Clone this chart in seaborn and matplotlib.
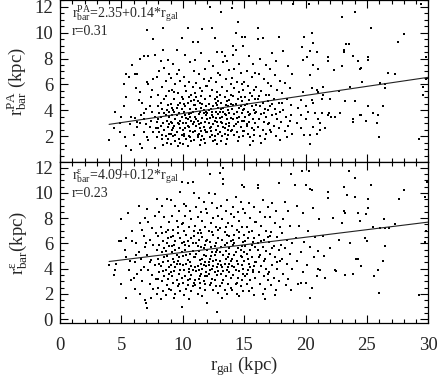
import numpy as np
import pandas as pd
import seaborn as sns
import matplotlib
matplotlib.use('Agg')
from matplotlib import pyplot as plt
from matplotlib.ticker import MultipleLocator

# bar length from position angle profile vs galaxy radius
pa_points = [
    (4.0, 1.7), (4.4, 2.6), (4.5, 3.9), (4.9, 3.0), (4.9, 2.3), (5.0, 3.5), (5.3, 1.9), (5.4, 1.2), (5.8, 0.9), (5.2, 4.3),
    (5.4, 5.0), (5.4, 6.8), (5.6, 6.6), (5.2, 6.0), (5.9, 7.5), (5.8, 3.5), (5.7, 2.9), (6.1, 6.8), (6.3, 6.8), (6.5, 8.0),
    (6.8, 8.2), (6.2, 5.7), (6.5, 5.4), (6.4, 4.8), (6.7, 4.6), (6.1, 3.4), (6.3, 3.1), (6.5, 3.0), (6.8, 3.3), (6.3, 2.7),
    (6.8, 2.3), (6.5, 1.4), (6.7, 1.1), (7.1, 1.9), (6.8, 3.8), (7.1, 6.2), (7.2, 6.0), (7.5, 5.6), (7.6, 6.4), (7.9, 6.6),
    (7.3, 4.3), (7.5, 3.9), (7.7, 3.5), (7.9, 3.1), (7.3, 2.7), (7.6, 2.3), (7.9, 1.9), (7.2, 1.7), (7.7, 1.1), (7.2, 8.2),
    (7.7, 8.3), (7.6, 9.5), (7.1, 10.2), (6.0, 2.1), (6.6, 3.6), (7.0, 4.1), (7.4, 3.2), (7.8, 2.6), (7.0, 2.9), (7.4, 5.0),
    (8.1, 7.0), (8.2, 7.8), (8.4, 10.4), (8.8, 7.9), (8.4, 8.7), (8.0, 5.2), (8.3, 5.8), (8.6, 6.3), (8.9, 5.5), (8.2, 4.6),
    (8.5, 4.9), (8.8, 4.4), (8.1, 3.8), (8.3, 4.1), (8.6, 3.6), (8.9, 3.9), (8.0, 3.3), (8.4, 3.0), (8.7, 3.2), (8.2, 2.8),
    (8.5, 2.5), (8.8, 2.7), (8.1, 2.3), (8.6, 2.0), (8.9, 2.2), (8.3, 1.8), (8.7, 1.5), (8.4, 1.3), (8.0, 2.6), (8.9, 3.5),
    (8.5, 3.8), (8.2, 3.5), (8.7, 4.0), (8.6, 5.1), (8.9, 6.8), (8.3, 2.1), (8.8, 1.8), (8.0, 4.3), (8.5, 7.3), (8.9, 2.9),
    (9.9, 9.6), (9.5, 8.7), (9.2, 7.6), (9.7, 7.1), (9.0, 6.5), (9.4, 6.0), (9.8, 6.3), (9.1, 5.6), (9.6, 5.3), (9.3, 4.9),
    (9.9, 5.0), (9.0, 4.5), (9.5, 4.2), (9.8, 4.6), (9.2, 4.0), (9.7, 3.8), (9.1, 3.6), (9.4, 3.3), (9.9, 3.5), (9.0, 3.1),
    (9.6, 3.0), (9.3, 2.8), (9.8, 2.6), (9.1, 2.5), (9.5, 2.3), (9.9, 2.1), (9.2, 2.0), (9.7, 1.8), (9.4, 1.6), (9.0, 1.4),
    (9.6, 1.2), (9.3, 3.9), (9.8, 3.2), (9.1, 4.2), (9.5, 3.6), (9.7, 2.9), (9.2, 2.6), (9.9, 4.1), (9.4, 2.1), (9.6, 4.4),
    (9.0, 2.2), (9.3, 5.4), (9.8, 1.5), (9.5, 6.8), (9.1, 3.0),
    (10.4, 10.4), (10.8, 9.3), (10.2, 8.3), (10.6, 7.7), (10.9, 7.0), (10.1, 6.6), (10.5, 6.2), (10.8, 5.8), (10.3, 5.5), (10.7, 5.2),
    (10.0, 4.9), (10.4, 4.6), (10.9, 4.8), (10.2, 4.3), (10.6, 4.1), (10.1, 3.9), (10.5, 3.7), (10.8, 3.9), (10.3, 3.4), (10.7, 3.2),
    (10.0, 3.0), (10.4, 2.8), (10.9, 3.1), (10.2, 2.6), (10.6, 2.4), (10.1, 2.2), (10.5, 2.0), (10.8, 2.3), (10.3, 1.8), (10.7, 1.6),
    (10.0, 1.4), (10.4, 1.2), (10.6, 3.5), (10.2, 3.6), (10.9, 4.4), (10.5, 2.7), (10.8, 2.9), (10.1, 4.5), (10.3, 3.0), (10.7, 4.7),
    (10.0, 2.5), (10.6, 1.9), (10.9, 1.7), (10.4, 3.3), (10.2, 5.9), (10.7, 3.8), (10.5, 5.0), (10.1, 2.0),
    (11.2, 9.3), (11.6, 10.3), (11.0, 7.9), (11.5, 8.4), (11.8, 7.2), (11.3, 6.8), (11.7, 6.4), (11.1, 6.1), (11.4, 5.7), (11.9, 5.9),
    (11.0, 5.3), (11.5, 5.1), (11.8, 4.9), (11.2, 4.7), (11.6, 4.5), (11.9, 4.3), (11.1, 4.1), (11.4, 3.9), (11.7, 4.0), (11.3, 3.7),
    (11.0, 3.5), (11.6, 3.4), (11.9, 3.6), (11.2, 3.2), (11.5, 3.0), (11.8, 3.1), (11.1, 2.8), (11.4, 2.6), (11.7, 2.7), (11.0, 2.4),
    (11.3, 2.2), (11.6, 2.0), (11.9, 2.3), (11.2, 1.9), (11.5, 1.7), (11.8, 1.5), (11.4, 1.3), (11.7, 3.8), (11.1, 3.3), (11.5, 4.2),
    (11.3, 2.9), (11.8, 2.5), (11.0, 4.4), (11.6, 5.5), (11.9, 3.9), (11.2, 2.1), (11.4, 4.6), (11.7, 1.8), (11.1, 5.0), (11.5, 2.4),
    (12.2, 12.0), (12.4, 10.4), (12.6, 9.6), (12.8, 8.5), (12.1, 7.8), (12.5, 7.4), (12.9, 6.9), (12.3, 6.5), (12.7, 6.2), (12.0, 5.9),
    (12.4, 5.6), (12.8, 5.4), (12.2, 5.1), (12.6, 4.9), (12.9, 4.7), (12.1, 4.5), (12.5, 4.3), (12.8, 4.4), (12.3, 4.1), (12.7, 3.9),
    (12.0, 3.8), (12.4, 3.6), (12.9, 3.7), (12.2, 3.4), (12.6, 3.2), (12.1, 3.0), (12.5, 2.9), (12.8, 3.1), (12.3, 2.7), (12.7, 2.5),
    (12.0, 2.3), (12.4, 2.1), (12.9, 2.2), (12.2, 1.9), (12.6, 1.7), (12.8, 1.4), (12.5, 3.5), (12.1, 4.0), (12.7, 4.6), (12.3, 2.4),
    (12.9, 2.8), (12.0, 3.3), (12.6, 2.0), (12.4, 3.9), (12.8, 5.0), (12.2, 2.6), (12.5, 1.6), (12.7, 3.4), (12.1, 6.3), (12.9, 4.2),
    (13.1, 11.6), (13.2, 8.5), (13.4, 8.2), (13.6, 7.8), (13.3, 7.7), (13.8, 7.1), (13.0, 6.7), (13.5, 6.4), (13.9, 6.0), (13.2, 5.8),
    (13.6, 5.5), (13.0, 5.2), (13.4, 5.0), (13.8, 4.8), (13.1, 4.6), (13.5, 4.4), (13.9, 4.5), (13.3, 4.2), (13.7, 4.0), (13.0, 3.9),
    (13.4, 3.7), (13.8, 3.8), (13.2, 3.5), (13.6, 3.3), (13.9, 3.4), (13.1, 3.1), (13.5, 2.9), (13.8, 3.0), (13.3, 2.7), (13.7, 2.5),
    (13.0, 2.3), (13.4, 2.2), (13.9, 2.4), (13.2, 2.0), (13.6, 1.8), (13.1, 1.6), (13.5, 1.4), (13.7, 4.3), (13.3, 3.9), (13.8, 2.8),
    (13.0, 3.4), (13.6, 4.7), (13.4, 2.6), (13.9, 5.2), (13.2, 3.0), (13.5, 3.6), (13.7, 2.1), (13.1, 4.1),
    (14.0, 11.9), (14.3, 10.0), (14.5, 10.8), (14.8, 9.7), (14.1, 9.0), (14.9, 9.0), (14.1, 8.3), (14.3, 8.7), (14.6, 7.6), (14.2, 7.2),
    (14.7, 6.9), (14.0, 6.5), (14.4, 6.2), (14.8, 6.0), (14.2, 5.7), (14.6, 5.4), (14.9, 5.6), (14.1, 5.1), (14.5, 4.9), (14.8, 4.7),
    (14.3, 4.5), (14.7, 4.3), (14.0, 4.1), (14.4, 3.9), (14.9, 4.0), (14.2, 3.7), (14.6, 3.5), (14.1, 3.3), (14.5, 3.1), (14.8, 3.2),
    (14.3, 2.9), (14.7, 2.7), (14.0, 2.5), (14.4, 2.3), (14.9, 2.4), (14.2, 2.1), (14.6, 1.9), (14.5, 1.6), (14.8, 3.8), (14.1, 4.4),
    (14.4, 3.4), (14.7, 5.0), (14.2, 2.8), (14.6, 4.2), (14.9, 2.0),
    (15.1, 9.7), (15.4, 8.2), (15.7, 7.6), (15.2, 7.0), (15.6, 6.6), (15.9, 6.9), (15.0, 6.2), (15.3, 5.9), (15.8, 5.6), (15.5, 5.3),
    (15.1, 5.0), (15.4, 4.8), (15.9, 4.9), (15.2, 4.5), (15.6, 4.3), (15.0, 4.1), (15.3, 3.9), (15.8, 4.0), (15.5, 3.7), (15.1, 3.5),
    (15.7, 3.3), (15.4, 3.1), (15.9, 3.0), (15.2, 2.8), (15.6, 2.6), (15.0, 2.4), (15.3, 2.2), (15.8, 2.1), (15.5, 1.9), (15.7, 1.6),
    (15.1, 4.4), (15.4, 3.6), (15.9, 3.8), (15.6, 5.1), (15.2, 2.9), (15.8, 2.5), (15.0, 3.2), (15.5, 1.3),
    (16.1, 10.4), (16.1, 9.5), (16.5, 9.6), (16.3, 8.0), (16.8, 7.5), (16.2, 6.8), (16.6, 6.4), (16.9, 6.1), (16.0, 5.8), (16.4, 5.5),
    (16.8, 5.2), (16.1, 4.9), (16.5, 4.6), (16.9, 4.7), (16.3, 4.3), (16.7, 4.1), (16.0, 3.9), (16.4, 3.7), (16.8, 3.5), (16.2, 3.3),
    (16.6, 3.1), (16.9, 2.9), (16.1, 2.7), (16.5, 2.5), (16.8, 2.2), (16.3, 2.0), (16.7, 1.8), (16.4, 1.5), (16.0, 4.4), (16.6, 3.8),
    (16.2, 5.1), (16.9, 4.0),
    (17.8, 9.7), (17.3, 8.4), (17.6, 7.8), (17.1, 7.2), (17.5, 6.7), (17.9, 6.3), (17.2, 5.9), (17.7, 5.6), (17.0, 5.2), (17.4, 4.9),
    (17.8, 4.6), (17.1, 4.3), (17.5, 4.1), (17.9, 3.9), (17.3, 3.6), (17.7, 3.3), (17.0, 3.0), (17.4, 2.8), (17.8, 2.6), (17.2, 2.3),
    (17.6, 2.0), (17.9, 1.7), (17.3, 4.5), (17.6, 3.7), (17.1, 2.5),
    (18.2, 8.6), (18.6, 7.4), (18.9, 6.8), (18.3, 6.1), (18.7, 5.7), (18.1, 5.3), (18.5, 4.9), (18.8, 4.4), (18.2, 4.0), (18.4, 3.5),
    (18.8, 3.6), (18.0, 3.1), (18.6, 2.8), (18.3, 2.4), (18.9, 2.2), (18.5, 1.9), (18.1, 4.6), (18.7, 3.2),
    (19.0, 12.2), (19.7, 12.5), (20.3, 12.2), (29.4, 12.2), (24.0, 11.6), (23.0, 11.2), (25.3, 10.4), (28.0, 9.9), (27.5, 9.3), (19.9, 9.7),
    (20.5, 10.0), (20.6, 9.2), (19.7, 8.9), (20.4, 8.6), (20.9, 8.5), (20.1, 8.1), (19.8, 7.9), (20.6, 7.5), (21.0, 7.2), (20.4, 6.7),
    (21.8, 8.1), (21.8, 7.8), (22.3, 7.1), (23.1, 8.7), (23.1, 8.5), (23.3, 9.1), (23.5, 9.1), (23.9, 8.2), (24.3, 7.8), (24.4, 7.2),
    (24.5, 7.3), (23.0, 7.4), (25.1, 8.1), (25.1, 7.9), (26.7, 6.9), (27.3, 6.8), (26.1, 6.1), (26.5, 6.0), (24.6, 6.2), (23.6, 5.8),
    (22.7, 5.5), (21.4, 5.8), (21.0, 5.4), (21.4, 5.2), (22.0, 4.9), (21.3, 4.9), (20.9, 5.6), (20.5, 5.7), (19.8, 5.4), (19.6, 4.8),
    (20.5, 4.8), (20.6, 4.6), (20.0, 4.3), (20.2, 3.9), (19.4, 4.2), (19.6, 3.6), (20.8, 3.8), (21.3, 3.8), (21.0, 3.3), (21.2, 3.0),
    (20.0, 3.3), (19.3, 3.0), (19.6, 2.6), (20.6, 2.7), (20.4, 2.1), (20.9, 2.2), (19.9, 2.1), (20.4, 1.4), (21.9, 3.8), (22.1, 3.5),
    (22.8, 3.8), (23.9, 3.3), (24.4, 3.6), (24.5, 3.6), (25.1, 4.3), (25.8, 3.0), (25.9, 3.6), (26.3, 4.3), (26.0, 1.9), (29.2, 1.8),
    (29.6, 5.2), (29.6, 5.8), (29.8, 6.4), (29.8, 8.1), (26.5, 5.7), (23.2, 4.7), (24.0, 4.7), (22.4, 3.5), (21.8, 3.6), (21.2, 2.5),
    (24.9, 3.2), (25.5, 3.8), (23.9, 3.1), (21.6, 2.6),
]

# bar length from ellipticity profile vs galaxy radius
eps_points = [
    (4.0, 4.3), (4.4, 3.5), (4.5, 3.9), (4.6, 4.4), (4.8, 6.2), (5.0, 2.8), (5.0, 7.9), (5.0, 6.2), (5.4, 6.4), (5.5, 8.4),
    (5.4, 1.7), (5.4, 4.9), (5.6, 3.9), (5.9, 7.0), (5.9, 6.2), (5.3, 5.5), (5.7, 4.6), (5.8, 3.1), (6.1, 4.5), (6.4, 9.0),
    (6.5, 7.6), (6.9, 8.0), (6.9, 1.5), (7.0, 1.3), (7.1, 0.9), (7.1, 8.7), (6.2, 6.0), (6.4, 5.3), (6.6, 4.8), (6.8, 4.1),
    (6.3, 3.6), (6.7, 3.0), (6.1, 2.4), (6.5, 2.0), (6.8, 6.6), (6.2, 5.1), (6.6, 3.9), (6.9, 5.7), (6.0, 3.3), (6.7, 7.1),
    (7.9, 9.5), (7.2, 7.7), (7.5, 7.2), (7.8, 6.8), (7.3, 6.3), (7.6, 5.9), (7.9, 5.5), (7.1, 5.1), (7.4, 4.7), (7.7, 4.3),
    (7.2, 3.9), (7.5, 3.5), (7.8, 3.2), (7.3, 2.8), (7.6, 2.4), (7.9, 2.0), (7.4, 1.7), (7.0, 6.0), (7.7, 8.2), (7.3, 4.5),
    (8.7, 9.5), (8.3, 9.0), (8.1, 8.5), (8.5, 8.1), (8.9, 7.7), (8.2, 7.3), (8.6, 6.9), (8.0, 6.6), (8.4, 6.2), (8.8, 6.4),
    (8.1, 5.9), (8.5, 5.6), (8.9, 5.8), (8.3, 5.3), (8.7, 5.0), (8.0, 4.8), (8.4, 4.5), (8.8, 4.6), (8.2, 4.2), (8.6, 3.9),
    (8.9, 4.1), (8.1, 3.7), (8.5, 3.4), (8.8, 3.2), (8.3, 3.0), (8.7, 2.7), (8.0, 2.5), (8.4, 2.2), (8.9, 2.4), (8.6, 1.9),
    (8.2, 1.6), (8.5, 4.9), (8.7, 6.0), (8.3, 6.8), (8.9, 3.6), (8.1, 4.4), (8.6, 5.4), (8.4, 3.8), (8.8, 7.1), (8.0, 3.2),
    (9.0, 9.4), (9.8, 10.1), (9.4, 9.0), (9.7, 8.6), (9.1, 8.2), (9.5, 7.8), (9.9, 7.5), (9.2, 7.1), (9.6, 6.8), (9.0, 6.5),
    (9.4, 6.2), (9.8, 6.4), (9.3, 5.9), (9.7, 5.6), (9.1, 5.3), (9.5, 5.1), (9.9, 5.3), (9.2, 4.8), (9.6, 4.6), (9.0, 4.3),
    (9.4, 4.1), (9.8, 4.4), (9.3, 3.8), (9.7, 3.6), (9.1, 3.4), (9.5, 3.1), (9.9, 3.3), (9.2, 2.9), (9.6, 2.6), (9.0, 2.3),
    (9.4, 2.0), (9.8, 2.2), (9.9, 1.0), (9.3, 1.7), (9.7, 4.9), (9.1, 5.8), (9.5, 4.4), (9.8, 3.9), (9.2, 6.6), (9.6, 7.3),
    (9.0, 3.7), (9.4, 5.5), (9.7, 2.8), (9.3, 4.5), (9.9, 6.0),
    (10.1, 9.1), (10.3, 9.0), (10.9, 10.0), (10.4, 10.8), (10.8, 10.9), (9.9, 10.9), (10.6, 8.6), (10.2, 8.2), (10.7, 7.9), (10.0, 7.6),
    (10.5, 7.3), (10.9, 7.0), (10.3, 6.7), (10.7, 6.4), (10.1, 6.1), (10.5, 5.8), (10.8, 6.0), (10.2, 5.5), (10.6, 5.2), (10.0, 5.0),
    (10.4, 4.7), (10.9, 4.9), (10.3, 4.4), (10.7, 4.2), (10.1, 3.9), (10.5, 3.7), (10.8, 3.9), (10.2, 3.4), (10.6, 3.2), (10.0, 2.9),
    (10.4, 2.7), (10.9, 2.9), (10.3, 2.4), (10.7, 2.2), (10.1, 1.9), (10.5, 1.6), (10.6, 4.5), (10.2, 5.9), (10.8, 5.4), (10.4, 6.2),
    (10.0, 4.3), (10.7, 3.5), (10.3, 5.1), (10.9, 6.6), (10.5, 4.0), (10.1, 7.0), (10.8, 2.6), (10.4, 3.1),
    (11.3, 9.6), (11.7, 9.3), (11.1, 8.9), (11.5, 8.5), (11.9, 8.7), (11.2, 8.1), (11.6, 7.8), (11.0, 7.4), (11.4, 7.1), (11.8, 7.3),
    (11.2, 6.8), (11.6, 6.5), (11.9, 6.2), (11.1, 6.0), (11.5, 5.7), (11.8, 5.9), (11.3, 5.4), (11.7, 5.1), (11.0, 4.9), (11.4, 4.7),
    (11.8, 4.5), (11.2, 4.2), (11.6, 4.0), (11.9, 4.2), (11.1, 3.8), (11.5, 3.6), (11.8, 3.4), (11.3, 3.2), (11.7, 3.0), (11.0, 2.7),
    (11.4, 2.5), (11.8, 2.3), (11.2, 2.0), (11.6, 1.8), (11.5, 4.4), (11.1, 5.2), (11.7, 5.6), (11.3, 6.3), (11.9, 3.7), (11.0, 4.1),
    (11.6, 4.8), (11.4, 3.4), (11.2, 5.8), (11.8, 2.8), (11.5, 6.8), (11.3, 3.9), (11.7, 4.3), (11.0, 3.1), (11.9, 5.0), (11.4, 2.9),
    (12.2, 11.5), (12.1, 10.0), (12.6, 9.9), (12.4, 9.2), (12.8, 8.8), (12.0, 8.4), (12.5, 8.0), (12.9, 8.2), (12.3, 7.6), (12.7, 7.3),
    (12.1, 7.0), (12.5, 6.7), (12.9, 6.4), (12.2, 6.1), (12.6, 5.8), (12.0, 5.5), (12.4, 5.3), (12.8, 5.5), (12.3, 5.0), (12.7, 4.7),
    (12.1, 4.5), (12.5, 4.2), (12.9, 4.4), (12.2, 3.9), (12.6, 3.7), (12.0, 3.4), (12.4, 3.2), (12.8, 3.5), (12.3, 2.9), (12.7, 2.6),
    (12.0, 1.3), (12.8, 0.6), (12.5, 2.3), (12.9, 2.1), (12.2, 4.8), (12.6, 5.1), (12.4, 4.0), (12.7, 6.0), (12.1, 3.6), (12.9, 3.8),
    (12.3, 5.7), (12.5, 4.6), (12.8, 4.1), (12.0, 6.3), (12.6, 3.1), (12.2, 2.7), (12.4, 6.9), (12.7, 5.3), (12.1, 4.3), (12.9, 7.1),
    (13.3, 12.0), (13.0, 11.6), (13.3, 11.1), (13.3, 10.7), (13.6, 9.4), (13.1, 9.0), (13.5, 8.6), (13.9, 8.3), (13.2, 7.9), (13.7, 7.6),
    (13.0, 7.2), (13.4, 6.9), (13.8, 6.6), (13.2, 6.3), (13.6, 6.0), (13.9, 6.2), (13.1, 5.7), (13.5, 5.4), (13.8, 5.6), (13.3, 5.1),
    (13.7, 4.9), (13.0, 4.6), (13.4, 4.4), (13.9, 4.6), (13.2, 4.1), (13.6, 3.9), (13.1, 3.6), (13.5, 3.4), (13.8, 3.7), (13.3, 3.1),
    (13.7, 2.8), (13.0, 2.6), (13.4, 2.3), (13.9, 2.5), (13.6, 2.0), (13.2, 1.7), (13.5, 4.8), (13.8, 5.2), (13.1, 4.3), (13.4, 5.9),
    (13.7, 4.1), (13.0, 5.3), (13.6, 6.7), (13.3, 3.8), (13.9, 3.3), (13.2, 2.9), (13.5, 7.3), (13.8, 4.4),
    (14.8, 10.6), (14.3, 9.7), (14.7, 9.3), (14.1, 8.9), (14.5, 8.5), (14.9, 8.7), (14.2, 8.1), (14.6, 7.8), (14.0, 7.4), (14.4, 7.1),
    (14.8, 7.3), (14.2, 6.7), (14.6, 6.4), (14.9, 6.1), (14.1, 5.9), (14.5, 5.6), (14.8, 5.8), (14.3, 5.3), (14.7, 5.0), (14.0, 4.8),
    (14.4, 4.6), (14.8, 4.3), (14.2, 4.1), (14.6, 3.8), (14.9, 4.0), (14.1, 3.5), (14.5, 3.3), (14.8, 3.1), (14.3, 2.8), (14.7, 2.6),
    (14.0, 2.3), (14.4, 2.0), (14.9, 2.2), (14.6, 1.8), (14.2, 5.1), (14.5, 4.4), (14.7, 5.5), (14.1, 6.3), (14.9, 3.6), (14.3, 3.9),
    (14.6, 6.9), (14.0, 4.2), (14.8, 4.9), (14.4, 2.9), (14.2, 6.0),
    (15.0, 10.5), (15.4, 9.2), (15.8, 8.9), (15.1, 8.4), (15.5, 8.0), (15.9, 7.7), (15.2, 7.3), (15.6, 7.0), (15.0, 6.7), (15.3, 6.4),
    (15.7, 6.1), (15.1, 5.8), (15.5, 5.5), (15.9, 5.7), (15.2, 5.2), (15.6, 4.9), (15.0, 4.6), (15.4, 4.4), (15.8, 4.2), (15.3, 3.9),
    (15.7, 3.7), (15.1, 3.4), (15.5, 3.1), (15.9, 3.3), (15.2, 2.8), (15.6, 2.5), (15.4, 2.2), (15.8, 1.9), (15.0, 5.3), (15.6, 5.9),
    (15.3, 4.8), (15.9, 4.5), (15.1, 6.2), (15.7, 3.9), (15.4, 6.9), (15.2, 3.6), (15.8, 6.4), (15.5, 4.1),
    (16.1, 10.6), (16.1, 10.4), (16.5, 9.4), (16.9, 8.9), (16.3, 8.5), (16.7, 8.1), (16.0, 7.7), (16.4, 7.4), (16.8, 7.0), (16.2, 6.7),
    (16.6, 6.3), (16.9, 6.5), (16.1, 6.0), (16.5, 5.7), (16.8, 5.4), (16.3, 5.1), (16.7, 4.8), (16.0, 4.5), (16.4, 4.2), (16.8, 4.0),
    (16.2, 3.7), (16.6, 3.4), (16.9, 3.1), (16.3, 2.8), (16.7, 2.4), (16.5, 2.0), (16.1, 5.5), (16.6, 4.6), (16.4, 6.2), (16.9, 3.6),
    (16.2, 4.9), (16.7, 1.6),
    (17.8, 10.8), (17.3, 9.2), (17.6, 8.6), (17.1, 8.1), (17.5, 7.6), (17.9, 7.3), (17.2, 6.9), (17.7, 6.5), (17.0, 6.1), (17.4, 5.8),
    (17.8, 5.5), (17.1, 5.2), (17.5, 4.9), (17.9, 4.6), (17.3, 4.3), (17.7, 4.0), (17.0, 3.7), (17.4, 3.3), (17.8, 3.0), (17.2, 2.7),
    (17.6, 2.3), (17.3, 5.6), (17.7, 4.5), (17.1, 6.6), (17.5, 1.9),
    (18.8, 11.5), (18.3, 9.3), (18.6, 8.6), (18.2, 7.9), (18.7, 7.4), (18.1, 6.8), (18.5, 6.3), (18.9, 6.0), (18.3, 5.6), (18.7, 5.2),
    (18.1, 4.8), (18.5, 4.4), (18.9, 4.0), (18.2, 3.6), (18.6, 3.2), (18.4, 2.7), (18.8, 2.3), (18.0, 5.9),
    (19.7, 11.7), (20.3, 11.7), (23.5, 11.7), (24.0, 11.2), (19.1, 10.6), (20.0, 10.6), (23.1, 10.5), (25.3, 10.6), (28.0, 10.2), (27.6, 9.5),
    (29.7, 9.7), (29.9, 10.9), (20.4, 10.3), (20.5, 10.2), (21.8, 10.1), (21.8, 9.6), (23.4, 9.8), (24.0, 9.7), (25.1, 9.5), (25.1, 8.8),
    (23.1, 8.6), (23.2, 8.4), (24.3, 8.4), (24.9, 8.3), (22.2, 8.0), (23.0, 7.6), (24.4, 7.8), (26.4, 7.9), (25.5, 7.3), (26.1, 7.2),
    (26.5, 7.2), (26.8, 7.2), (27.3, 7.5), (29.8, 7.0), (29.7, 6.1), (26.5, 5.8), (25.0, 6.2), (24.8, 6.4), (23.6, 6.0), (22.7, 6.3),
    (24.1, 4.8), (24.3, 4.8), (26.3, 4.6), (25.9, 3.9), (25.6, 3.4), (24.5, 4.2), (23.9, 3.6), (23.2, 3.5), (22.4, 3.9), (22.5, 3.8),
    (26.0, 2.1), (29.2, 1.9), (21.6, 3.3), (21.0, 4.0), (21.2, 3.9), (20.4, 1.7), (20.5, 2.5), (20.0, 2.9), (19.4, 2.8), (19.6, 2.9),
    (19.3, 9.0), (19.8, 8.4), (20.6, 8.8), (21.1, 7.9), (19.5, 7.4), (20.2, 7.0), (20.8, 6.5), (19.2, 6.4), (19.9, 6.1), (21.4, 6.6),
    (20.4, 5.7), (19.6, 5.3), (21.0, 5.4), (20.7, 4.9), (19.3, 4.6), (20.1, 4.3), (21.5, 5.0), (22.0, 5.6), (19.8, 3.7), (20.9, 3.4),
]

# linear fits quoted in the panels: intercept, slope, correlation
fit_pa = (2.35, 0.14, 0.31)
fit_eps = (4.09, 0.12, 0.23)

x_limits = (0, 30)
ylim_pa = (0, 12.5)
ylim_eps = (-0.3, 12.45)

sns.set_style('ticks')
plt.rcParams['font.family'] = ['Liberation Serif', 'DejaVu Serif']
plt.rcParams['mathtext.fontset'] = 'custom'
plt.rcParams['mathtext.rm'] = 'Liberation Serif'
plt.rcParams['mathtext.it'] = 'Liberation Serif'
plt.rcParams['mathtext.default'] = 'regular'

fig = plt.figure(figsize=(4.38, 3.79), dpi=100)
ax1 = fig.add_axes([0.137, 0.5726, 0.841, 0.4264])
ax2 = fig.add_axes([0.137, 0.1478, 0.841, 0.4248])

panels = [
    (ax1, pa_points, fit_pa, ylim_pa, r'$r^{PA}_{bar}$ (kpc)', r'$r^{PA}_{bar}$=%.2f+%.2f*$r_{gal}$'),
    (ax2, eps_points, fit_eps, ylim_eps, r'$r^{\varepsilon}_{bar}$(kpc)', r'$r^{\varepsilon}_{bar}$=%.2f+%.2f*$r_{gal}$'),
]

for ax, pts, fit, ylim, ylab, eq in panels:
    df = pd.DataFrame(pts, columns=['r_gal', 'r_bar'])
    sns.scatterplot(data=df, x='r_gal', y='r_bar', ax=ax, color='k', marker='s',
                    s=3.5, linewidth=0, legend=False)
    a, b, r = fit
    line = pd.DataFrame({'r_gal': [df['r_gal'].min(), x_limits[1]]})
    line['fit'] = a + b * line['r_gal']
    sns.lineplot(data=line, x='r_gal', y='fit', ax=ax, color='#222222', lw=0.8)

    ax.set_xlim(*x_limits)
    ax.set_ylim(*ylim)
    ax.xaxis.set_major_locator(MultipleLocator(5))
    ax.xaxis.set_minor_locator(MultipleLocator(1))
    ax.yaxis.set_minor_locator(MultipleLocator(0.5))
    ax.tick_params(which='both', direction='in', top=True, right=True, labelsize=13.5,
                   width=0.8, color='k')
    ax.tick_params(which='major', length=6)
    ax.tick_params(which='minor', length=3)
    ax.tick_params(axis='y', pad=5)
    ax.tick_params(axis='x', pad=10)
    for sp in ax.spines.values():
        sp.set_linewidth(0.9)
        sp.set_color('k')

    ax.set_ylabel(ylab, fontsize=13.5)
    ax.yaxis.set_label_coords(-0.085, 0.5)
    ax.text(0.033, 1 - 17.5 / 162, eq % (a, b), transform=ax.transAxes, fontsize=10,
            va='baseline', ha='left')
    ax.text(0.033, 1 - 35 / 162, 'r=%.2f' % r, transform=ax.transAxes, fontsize=10,
            va='baseline', ha='left')

ax1.set_yticks([2, 4, 6, 8, 10, 12])
ax1.set_xticklabels([])
ax1.set_xlabel('')
ax2.set_yticks([0, 2, 4, 6, 8, 10, 12])
ax2.set_xlabel(r'$r_{gal}$ (kpc)', fontsize=13.5, labelpad=0)

fig.savefig('out.png', dpi=100)
